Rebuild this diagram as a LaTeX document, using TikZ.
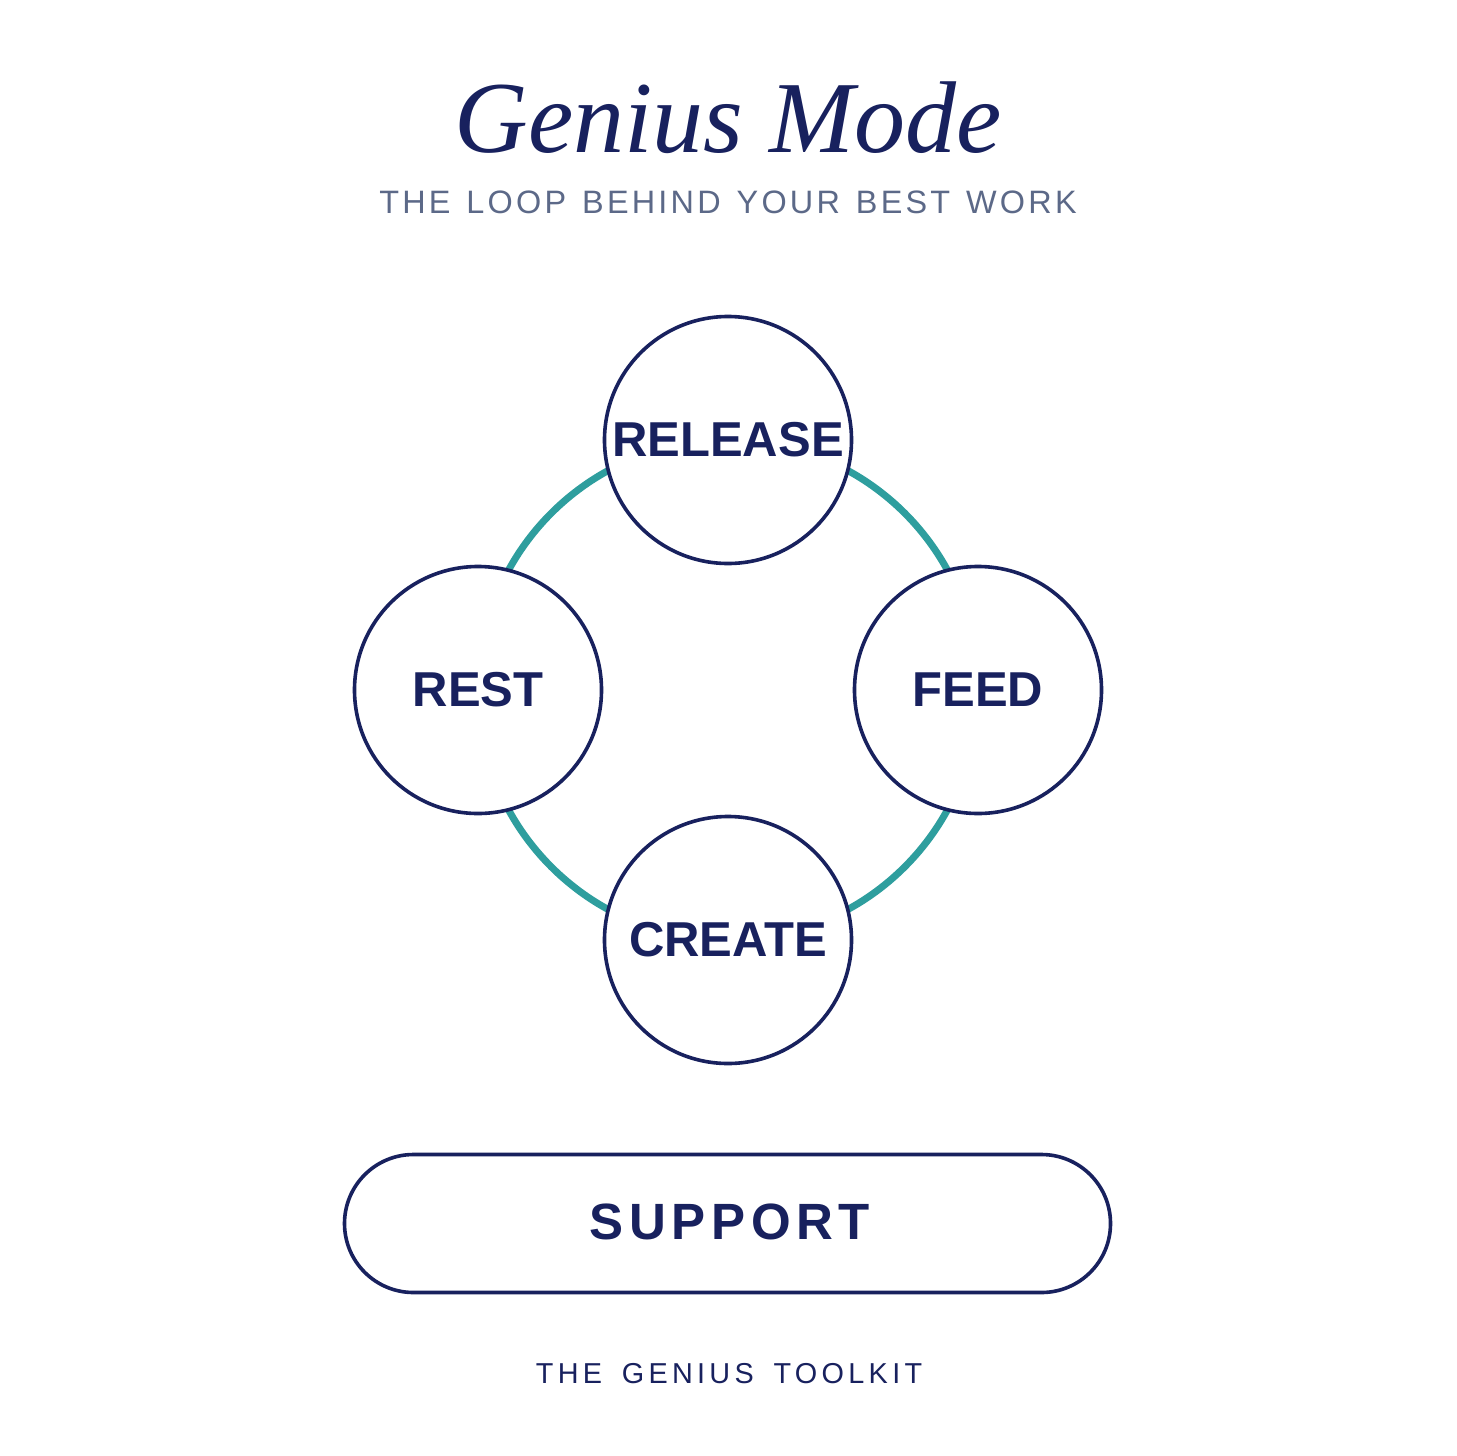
\documentclass[tikz,border=0pt]{standalone}
\usepackage{fontspec}
\setmainfont{Liberation Serif}
\newfontfamily\labelfont{Liberation Sans}
\newfontfamily\supportfont{Liberation Sans}[LetterSpace=11]
\newfontfamily\subfont{Liberation Sans}[LetterSpace=10,WordSpace=1.3]
\newfontfamily\footfont{Liberation Sans}[LetterSpace=15,WordSpace=1.6]
\definecolor{navy}{HTML}{18215E}
\definecolor{teal}{HTML}{2E9E9E}
\definecolor{subgray}{HTML}{5C6988}
\begin{document}
\begin{tikzpicture}[x=0.5pt,y=-0.5pt,
  stage/.style={circle,draw=navy,line width=1.8pt,fill=white,minimum size=123.5pt,inner sep=0pt,
    text=navy,font=\labelfont\bfseries\fontsize{24.5}{28}\selectfont},
  ring/.style={draw=teal,line width=3.5pt},
  pill/.style={draw=navy,line width=1.8pt,fill=white,rounded corners=34.5pt}]
\fill[white] (0,0) rectangle (1456,1456);
\useasboundingbox (0,0) rectangle (1456,1456);
% title
\node[anchor=base,text=navy,font=\itshape\fontsize{51}{56}\selectfont] (title) at (728,152) {Genius Mode};
\node[anchor=base,text=subgray,font=\subfont\fontsize{16.2}{19}\selectfont] (subtitle) at (728,213) {THE LOOP BEHIND YOUR BEST WORK};
% ring
\coordinate (center) at (728,690);
\draw[ring] (center) circle[radius=125pt];
% stages
\node[stage] (release) at (728,440) {RELEASE};
\node[stage] (feed) at (978,690) {FEED};
\node[stage] (create) at (728,940) {CREATE};
\node[stage] (rest) at (478,690) {REST};
% support
\draw[pill] (344.5,1154.5) rectangle (1110.5,1292.5);
\node[text=navy,font=\supportfont\bfseries\fontsize{25.5}{28}\selectfont] (support) at (730,1222) {SUPPORT};
% footer
\node[anchor=base,text=navy,font=\footfont\fontsize{14.4}{17}\selectfont] (footer) at (729,1383) {THE GENIUS TOOLKIT};
\end{tikzpicture}
\end{document}
